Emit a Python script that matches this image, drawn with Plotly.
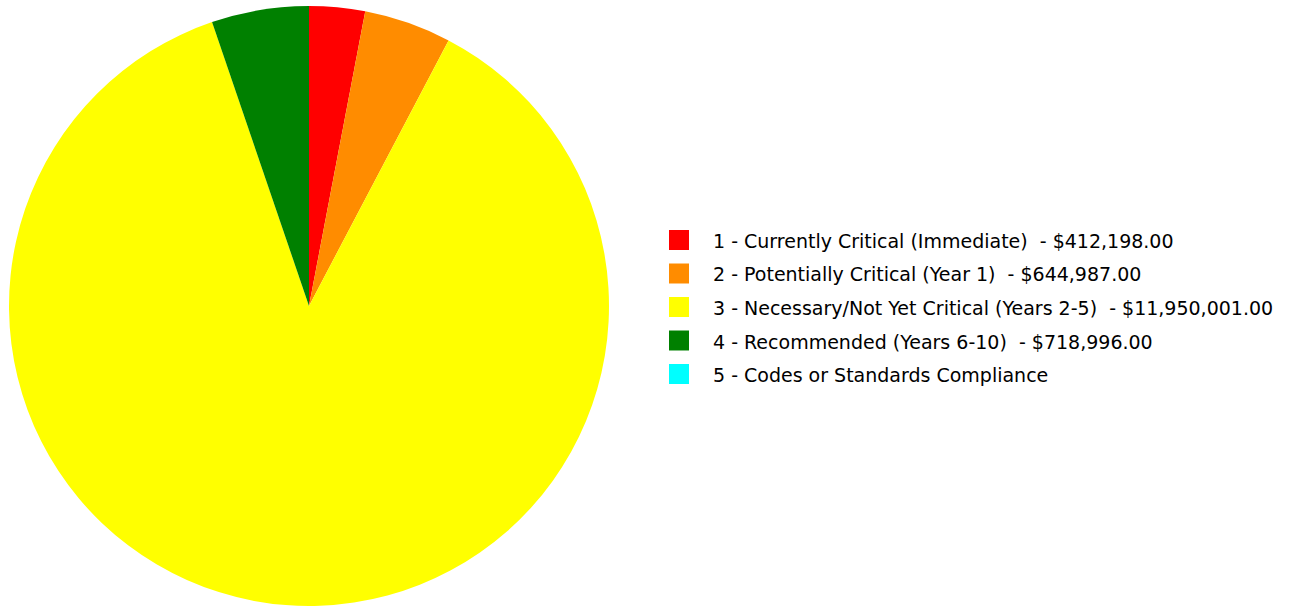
import plotly.graph_objects as go

categories = [
    "1 - Currently Critical (Immediate)",
    "2 - Potentially Critical (Year 1)",
    "3 - Necessary/Not Yet Critical (Years 2-5)",
    "4 - Recommended (Years 6-10)",
    "5 - Codes or Standards Compliance",
]
values = [412198.00, 644987.00, 11950001.00, 718996.00, 0.0]
colors = ["#FF0000", "#FF8C00", "#FFFF00", "#008000", "#00FFFF"]

W, H = 1291, 607

def label(c, v):
    if v > 0:
        return f"{c}\u00a0\u00a0- ${v:,.2f}"
    return c

fig = go.Figure()
fig.add_trace(go.Pie(
    labels=categories,
    values=values,
    marker=dict(colors=colors, line=dict(width=0)),
    sort=False,
    direction="clockwise",
    rotation=0,
    textinfo="none",
    hoverinfo="label+value+percent",
    showlegend=False,
    domain=dict(x=[9 / W, 609 / W], y=[1 / H, 601 / H]),
))

shapes = []
annotations = []
y0 = 240
step = 33.5
for i, (c, v, col) in enumerate(zip(categories, values, colors)):
    yc = y0 + i * step
    shapes.append(dict(type="rect", xref="paper", yref="paper",
                       x0=669 / W, x1=689 / W,
                       y0=1 - (yc - 10) / H, y1=1 - (yc + 10) / H,
                       fillcolor=col, line=dict(width=0)))
    annotations.append(dict(xref="paper", yref="paper", x=711 / W, y=1 - (yc + 1) / H,
                            xanchor="left", yanchor="middle", showarrow=False,
                            text=label(c, v),
                            font=dict(family="DejaVu Sans", size=19, color="#000000")))

fig.update_layout(
    width=W, height=H,
    margin=dict(l=0, r=0, t=0, b=0),
    paper_bgcolor="white", plot_bgcolor="white",
    shapes=shapes, annotations=annotations,
    showlegend=False,
)
fig.write_html("out.html")
